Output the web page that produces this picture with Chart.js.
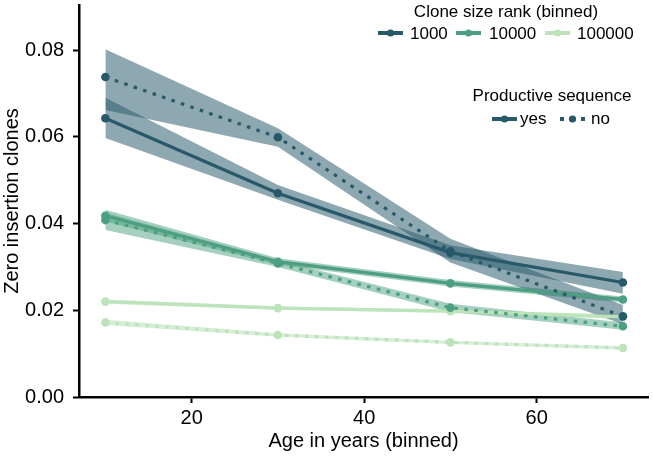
<!DOCTYPE html>
<html>
<head>
<meta charset="utf-8">
<script src="https://cdn.jsdelivr.net/npm/chart.js@4.4.1/dist/chart.umd.min.js"></script>
<style>
  html, body { margin: 0; padding: 0; background: #fff; }
  #wrap { width: 653px; height: 456px; }
</style>
</head>
<body>
<div id="wrap"><canvas id="zeroChart" width="653" height="456"></canvas></div>
<script>
// Age bins and tick labels
const ages = [10, 30, 50, 70];
const xTicks = [20, 40, 60];
const yTicks = [0, 0.02, 0.04, 0.06, 0.08];

// Clone size rank 1000
const rank1000Yes = [0.0643, 0.0470, 0.0333, 0.0264];
const rank1000YesLow = [0.0597, 0.0455, 0.0318, 0.0238];
const rank1000YesHigh = [0.0690, 0.0489, 0.0350, 0.0288];
const rank1000No = [0.0738, 0.0599, 0.0336, 0.0186];
const rank1000NoLow = [0.0662, 0.0577, 0.0310, 0.0168];
const rank1000NoHigh = [0.0802, 0.0620, 0.0365, 0.0212];

// Clone size rank 10000
const rank10000Yes = [0.0418, 0.0312, 0.0262, 0.0225];
const rank10000YesLow = [0.0405, 0.0305, 0.0255, 0.0218];
const rank10000YesHigh = [0.0432, 0.0320, 0.0270, 0.0232];
const rank10000No = [0.0408, 0.0308, 0.0206, 0.0163];
const rank10000NoLow = [0.0385, 0.0300, 0.0196, 0.0155];
const rank10000NoHigh = [0.0425, 0.0316, 0.0215, 0.0172];

// Clone size rank 100000
const rank100000Yes = [0.0220, 0.0205, 0.0198, 0.0185];
const rank100000YesLow = [0.0215, 0.0201, 0.0194, 0.0180];
const rank100000YesHigh = [0.0225, 0.0209, 0.0202, 0.0190];
const rank100000No = [0.0172, 0.0143, 0.0126, 0.0113];
const rank100000NoLow = [0.0166, 0.0139, 0.0122, 0.0109];
const rank100000NoHigh = [0.0178, 0.0147, 0.0130, 0.0117];

const rankLabels = ['1000', '10000', '100000'];
const productiveLabels = ['yes', 'no'];

const darkColor = '#27596a';
const mediumColor = '#4c9f80';
const lightColor = '#bde3bb';
const darkBand = 'rgba(39, 89, 106, 0.52)';
const mediumBand = 'rgba(76, 159, 128, 0.5)';
const lightBand = 'rgba(189, 227, 187, 0.6)';

const FONT = '"Liberation Sans", Arial, Helvetica, sans-serif';

function toPoints(values) {
    return values.map((v, i) => ({ x: ages[i], y: v }));
}

let datasets = [];

// lower + upper band (filled between), then the line itself
function addSeries(label, values, low, high, color, band, dotted) {
    datasets.push({
        label: label + ' low',
        data: toPoints(low),
        borderWidth: 0,
        pointRadius: 0,
        fill: false,
        order: 10
    });
    datasets.push({
        label: label + ' high',
        data: toPoints(high),
        borderWidth: 0,
        pointRadius: 0,
        backgroundColor: band,
        fill: '-1',
        order: 10
    });
    datasets.push({
        label: label,
        data: toPoints(values),
        borderColor: color,
        backgroundColor: color,
        borderWidth: 3.2,
        borderDash: dotted ? [3.5, 6.5] : [],
        borderCapStyle: 'butt',
        pointRadius: 4.3,
        pointBorderWidth: 0,
        pointBackgroundColor: color,
        tension: 0,
        fill: false,
        order: 0
    });
}

addSeries('1000 yes', rank1000Yes, rank1000YesLow, rank1000YesHigh, darkColor, darkBand, false);
addSeries('1000 no', rank1000No, rank1000NoLow, rank1000NoHigh, darkColor, darkBand, true);
addSeries('10000 yes', rank10000Yes, rank10000YesLow, rank10000YesHigh, mediumColor, mediumBand, false);
addSeries('10000 no', rank10000No, rank10000NoLow, rank10000NoHigh, mediumColor, mediumBand, true);
addSeries('100000 yes', rank100000Yes, rank100000YesLow, rank100000YesHigh, lightColor, lightBand, false);
addSeries('100000 no', rank100000No, rank100000NoLow, rank100000NoHigh, lightColor, lightBand, true);

// Legend sample: short thick line with a dot in the middle
function drawSample(ctx, x0, x1, y, color, dotted) {
    ctx.save();
    ctx.strokeStyle = color;
    ctx.fillStyle = color;
    ctx.lineWidth = 4;
    ctx.lineCap = 'butt';
    ctx.setLineDash(dotted ? [4, 6.5] : []);
    ctx.beginPath();
    ctx.moveTo(x0, y);
    ctx.lineTo(x1, y);
    ctx.stroke();
    ctx.beginPath();
    ctx.arc((x0 + x1) / 2, y, 3.6, 0, Math.PI * 2);
    ctx.fill();
    ctx.restore();
}

const legendPlugin = {
    id: 'customLegend',
    afterDraw(chart) {
        const ctx = chart.ctx;
        ctx.save();
        ctx.font = '17px ' + FONT;
        ctx.fillStyle = '#000';
        ctx.textBaseline = 'middle';
        ctx.textAlign = 'center';
        ctx.fillText('Clone size rank (binned)', 506, 12);
        ctx.fillText('Productive sequence', 552, 96);

        ctx.textAlign = 'left';
        const rankColors = [darkColor, mediumColor, lightColor];
        const rankSampleX = [378, 456, 545];
        const rankTextX = [410, 489, 577];
        rankLabels.forEach((lab, i) => {
            drawSample(ctx, rankSampleX[i], rankSampleX[i] + 25, 33, rankColors[i], false);
            ctx.fillText(lab, rankTextX[i], 34);
        });

        const prodSampleX = [492, 560];
        const prodTextX = [520, 591];
        productiveLabels.forEach((lab, i) => {
            drawSample(ctx, prodSampleX[i], prodSampleX[i] + 25, 119, darkColor, i === 1);
            ctx.fillText(lab, prodTextX[i], 119);
        });
        ctx.restore();
    }
};

Chart.defaults.font.family = FONT;
Chart.defaults.font.size = 20;
Chart.defaults.color = '#000';

const axisGrid = {
    display: true,
    drawOnChartArea: false,
    drawTicks: true,
    tickLength: 6,
    tickWidth: 2,
    tickColor: '#000'
};

const zeroChart = new Chart(document.getElementById('zeroChart').getContext('2d'), {
    type: 'line',
    data: { datasets: datasets },
    options: {
        responsive: false,
        animation: false,
        layout: { padding: { top: 5, right: 5, left: 0, bottom: 0 } },
        plugins: {
            legend: { display: false },
            tooltip: { enabled: false }
        },
        scales: {
            x: {
                type: 'linear',
                min: 6.94,
                max: 72.91,
                border: { color: '#000', width: 2.5 },
                grid: axisGrid,
                ticks: { padding: 3, color: '#000', font: { size: 20 } },
                afterBuildTicks: (scale) => { scale.ticks = xTicks.map(v => ({ value: v })); },
                afterFit: (scale) => {
                    scale.height = 59;
                    scale.paddingLeft = 0;
                    scale.paddingRight = 0;
                },
                title: {
                    display: true,
                    text: 'Age in years (binned)',
                    color: '#000',
                    font: { size: 20 },
                    padding: { top: 0, bottom: 3 }
                }
            },
            y: {
                type: 'linear',
                min: 0,
                max: 0.0904,
                border: { color: '#000', width: 2.5 },
                grid: axisGrid,
                ticks: {
                    padding: 9,
                    color: '#000',
                    font: { size: 20 },
                    callback: (v) => Number(v).toFixed(2)
                },
                afterBuildTicks: (scale) => { scale.ticks = yTicks.map(v => ({ value: v })); },
                afterFit: (scale) => {
                    scale.width = 79;
                    scale.paddingTop = 0;
                    scale.paddingBottom = 0;
                },
                title: {
                    display: true,
                    text: 'Zero insertion clones',
                    color: '#000',
                    font: { size: 20 },
                    padding: { top: 0, bottom: 0 }
                }
            }
        }
    },
    plugins: [legendPlugin]
});
</script>
</body>
</html>
